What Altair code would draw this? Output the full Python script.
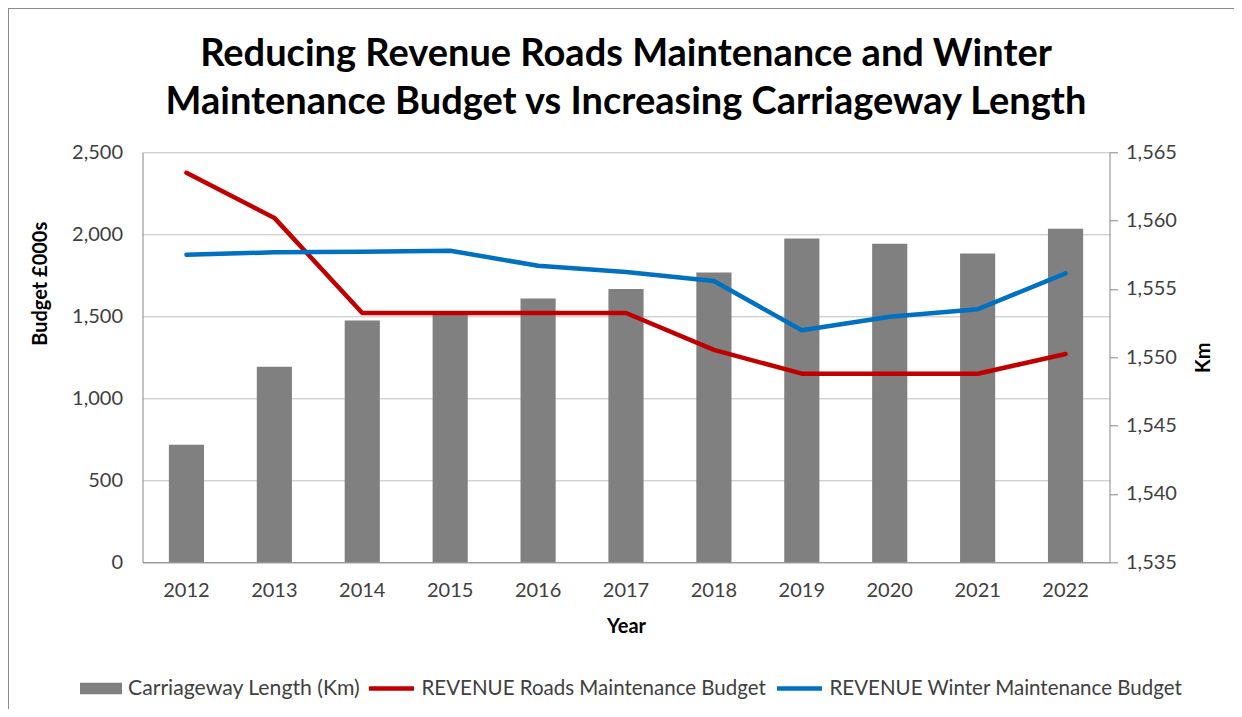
import altair as alt
import pandas as pd

# ---- data ----
years = ["2012", "2013", "2014", "2015", "2016", "2017", "2018", "2019", "2020", "2021", "2022"]
carriageway_km = [1543.6, 1549.3, 1552.7, 1553.1, 1554.3, 1555.0, 1556.2, 1558.7, 1558.3, 1557.6, 1559.4]
roads_budget = [2375, 2100, 1520, 1520, 1520, 1520, 1295, 1150, 1150, 1150, 1270]
winter_budget = [1875, 1890, 1893, 1900, 1808, 1770, 1715, 1415, 1497, 1543, 1762]

budget_ticks = [0, 500, 1000, 1500, 2000, 2500]
km_ticks = [1535, 1540, 1545, 1550, 1555, 1560, 1565]

bar_name = "Carriageway Length (Km)"
roads_name = "REVENUE Roads Maintenance Budget"
winter_name = "REVENUE Winter Maintenance Budget"

bars_df = pd.DataFrame({"Year": years, "Km": carriageway_km, "series": bar_name})
lines_df = pd.DataFrame({
    "Year": years + years,
    "Budget": roads_budget + winter_budget,
    "series": [roads_name] * len(years) + [winter_name] * len(years),
})

FONT = "Lato"
LABEL = "#404040"
AXIS = "#868686"
GRID = "#bfbfbf"

W, H = 967, 410
PAD_L, PAD_T = 134.5, 144.3

x_enc = alt.X(
    "Year:N", sort=years,
    scale=alt.Scale(paddingInner=0.6, paddingOuter=0.3),
    axis=alt.Axis(title="Year", labelAngle=0, ticks=False, domainColor=AXIS,
                  labelPadding=18, titlePadding=16),
)

bars = alt.Chart(bars_df).mark_bar(color="#808080").encode(
    x=x_enc,
    y=alt.Y("Km:Q", scale=alt.Scale(domain=[km_ticks[0], km_ticks[-1]], zero=False, nice=False),
            axis=alt.Axis(orient="right", values=km_ticks, format=",.0f", grid=False,
                          ticks=True, tickSize=8, tickColor=AXIS, domainColor=AXIS,
                          labelPadding=8, title="Km", titleAngle=270,
                          titleX=94, titleY=H / 2, titleAlign="center", titleBaseline="middle")),
    y2=alt.datum(km_ticks[0]),
    fill=alt.Fill("series:N", scale=alt.Scale(domain=[bar_name], range=["#808080"]),
                  legend=alt.Legend(orient="none", legendX=-62.5, legendY=515.2, title=None,
                                    symbolType="M-1,-0.27H1V0.27H-1Z", symbolSize=1764,
                                    symbolStrokeWidth=0, labelOffset=6, padding=0,
                                    labelFontSize=21.2)),
)

lines = alt.Chart(lines_df).mark_line(strokeWidth=4.5, strokeCap="round", strokeJoin="round").encode(
    x=alt.X("Year:N", sort=years),
    y=alt.Y("Budget:Q", scale=alt.Scale(domain=[budget_ticks[0], budget_ticks[-1]], nice=False),
            axis=alt.Axis(orient="left", values=budget_ticks, format=",.0f", grid=True,
                          gridColor=GRID, ticks=False, domainColor=AXIS, labelPadding=20,
                          title="Budget £000s", titleAngle=270, titleX=-102, titleY=131,
                          titleAlign="center", titleBaseline="middle")),
    stroke=alt.Stroke("series:N",
                      scale=alt.Scale(domain=[roads_name, winter_name], range=["#c00000", "#0070c0"]),
                      legend=alt.Legend(orient="none", legendX=224, legendY=511, title=None,
                                        direction="horizontal", symbolType="stroke",
                                        symbolSize=2025, symbolStrokeWidth=4.5,
                                        labelOffset=5, columnPadding=1, padding=0)),
)

frame = alt.Chart(bars_df).mark_rule(color=AXIS, strokeWidth=1.5).encode(
    x=alt.value(-PAD_L - 0.5), x2=alt.value(-PAD_L - 0.5),
    y=alt.value(-PAD_T - 0.5), y2=alt.value(700),
) + alt.Chart(bars_df).mark_rule(color=AXIS, strokeWidth=1.5).encode(
    x=alt.value(-PAD_L - 0.5), x2=alt.value(1300),
    y=alt.value(-PAD_T - 0.5), y2=alt.value(-PAD_T - 0.5),
)

chart = alt.layer(bars, lines, frame).resolve_scale(
    y="independent", fill="independent", stroke="independent"
).properties(
    width=W, height=H,
    autosize=alt.AutoSizeParams(type="none"),
    padding={"left": PAD_L, "top": PAD_T, "right": 1226 - PAD_L - W, "bottom": 701 - PAD_T - H},
    title=alt.TitleParams(
        ["Reducing Revenue Roads Maintenance and Winter",
         "Maintenance Budget vs Increasing Carriageway Length"],
        anchor="middle", fontSize=38, fontWeight="bold", font=FONT, color="#000000",
        lineHeight=48, offset=22, dy=137,
    ),
).configure_view(stroke=None).configure_axis(
    labelFont=FONT, labelFontSize=20, labelColor=LABEL,
    titleFont=FONT, titleFontSize=20, titleFontWeight="bold", titleColor="#000000",
).configure_legend(
    labelFont=FONT, labelFontSize=20.5, labelColor=LABEL, labelLimit=0,
)

chart.save("out.html", embed_options={"renderer": "svg", "actions": False})
